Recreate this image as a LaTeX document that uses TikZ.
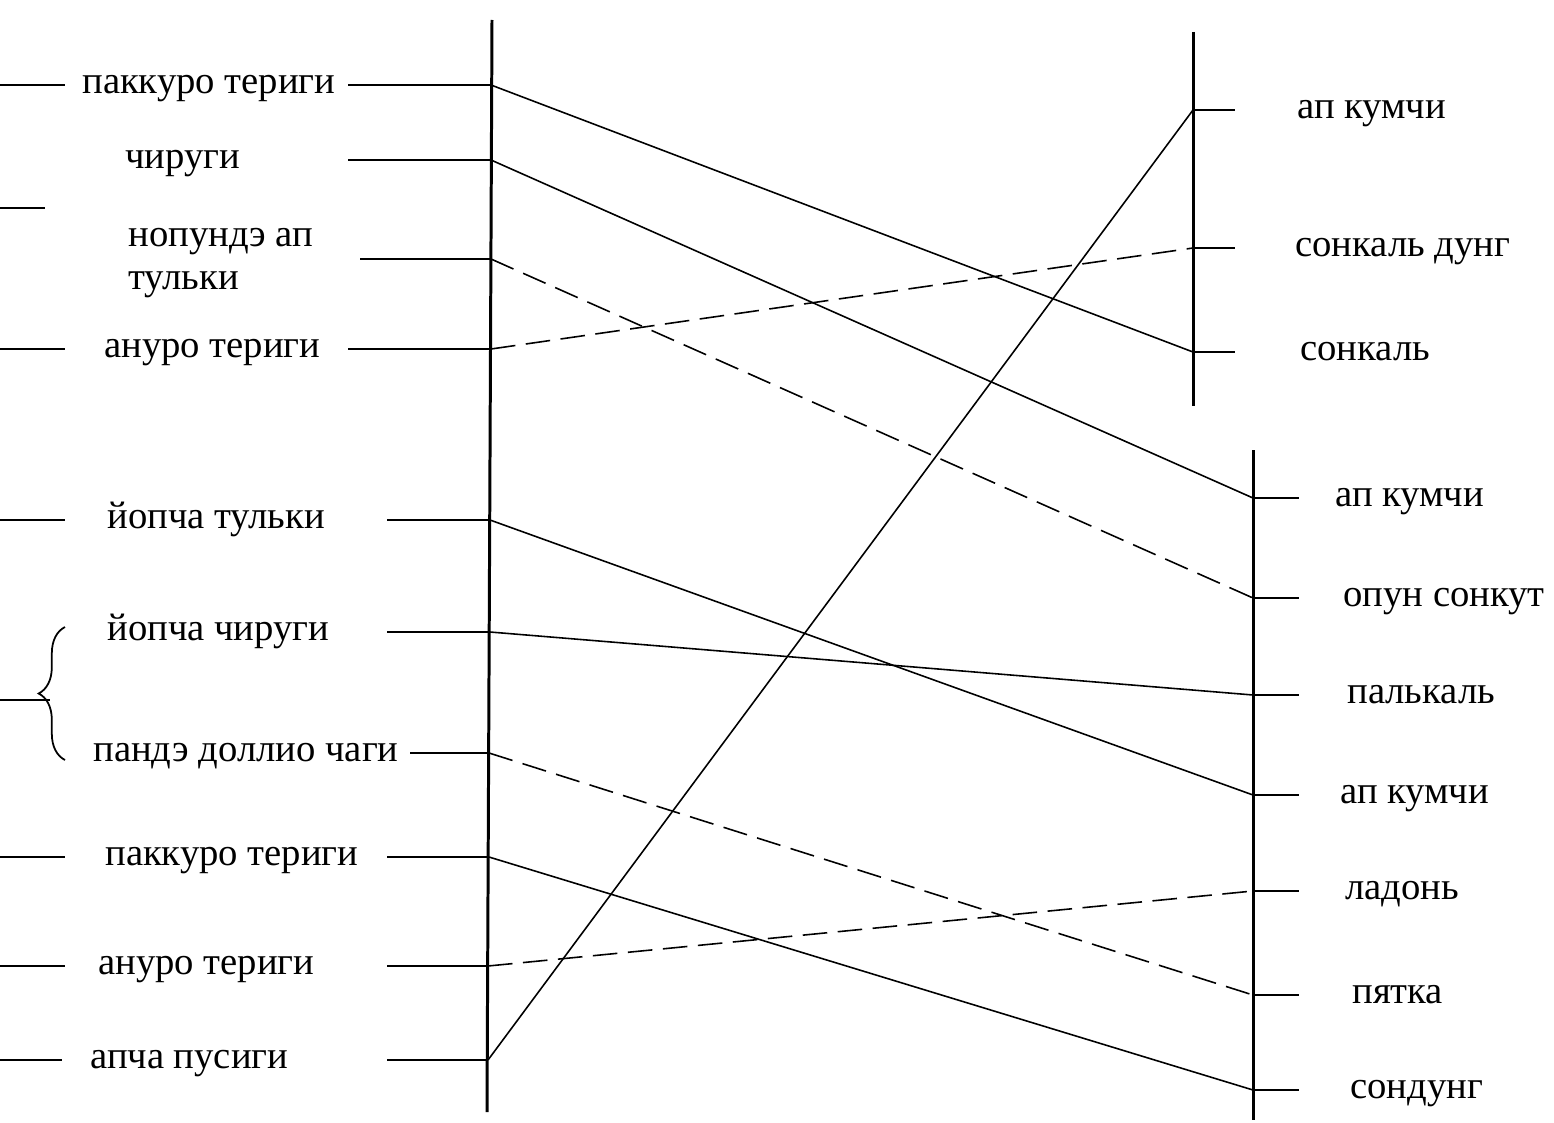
\documentclass[tikz,border=0pt]{standalone}
\usepackage{fontspec}
\setmainfont{Liberation Serif}
\usetikzlibrary{decorations.pathreplacing}

\begin{document}
\begin{tikzpicture}[x=0.02cm,y=-0.02cm,
    lbl/.style={anchor=base west,inner sep=0pt,font=\fontsize{22}{26}\selectfont},
    axis/.style={line width=1.7pt},
    stub/.style={line width=1pt},
    link/.style={line width=0.9pt},
    dlink/.style={link,dash pattern=on 14pt off 6pt}]
  \useasboundingbox (0,0) rectangle (1554,1122);

  % the three vertical axes
  \coordinate (axL-top) at (492,20);
  \coordinate (axL-bot) at (487,1112);
  \coordinate (axU-top) at (1193,32);
  \coordinate (axU-bot) at (1193,406);
  \coordinate (axD-top) at (1253,450);
  \coordinate (axD-bot) at (1253,1120);
  \draw[axis] (axL-top) -- (axL-bot);
  \draw[axis] (axU-top) -- (axU-bot);
  \draw[axis] (axD-top) -- (axD-bot);

  % left labels
  \node[lbl] (ptA)  at (82,93)   {паккуро териги};
  \node[lbl] (chir) at (125,168) {чируги};
  \node[lbl,anchor=west,align=left,font=\fontsize{22}{24.4}\selectfont] (nop) at (128,263) {нопундэ ап\\тульки};
  \node[lbl] (anA)  at (104,357) {ануро териги};
  \node[lbl] (yopt) at (107,528) {йопча тульки};
  \node[lbl] (yopc) at (107,640) {йопча чируги};
  \node[lbl] (pand) at (93,761)  {пандэ доллио чаги};
  \node[lbl] (ptB)  at (105,865) {паккуро териги};
  \node[lbl] (anB)  at (98,974)  {ануро териги};
  \node[lbl] (apch) at (90,1068) {апча пусиги};

  % points on the left axis
  \coordinate (ptA-ax)  at (491,85);
  \coordinate (chir-ax) at (491,160);
  \coordinate (nop-ax)  at (491,259);
  \coordinate (anA-ax)  at (491,349);
  \coordinate (yopt-ax) at (490,520);
  \coordinate (yopc-ax) at (490,632);
  \coordinate (pand-ax) at (489,753);
  \coordinate (ptB-ax)  at (489,857);
  \coordinate (anB-ax)  at (488,966);
  \coordinate (apch-ax) at (488,1060);

  % stubs between labels and the left axis
  \draw[stub] (348,85) -- (ptA-ax);
  \draw[stub] (348,160) -- (chir-ax);
  \draw[stub] (360,259) -- (nop-ax);
  \draw[stub] (348,349) -- (anA-ax);
  \draw[stub] (387,520) -- (yopt-ax);
  \draw[stub] (387,632) -- (yopc-ax);
  \draw[stub] (410,753) -- (pand-ax);
  \draw[stub] (387,857) -- (ptB-ax);
  \draw[stub] (387,966) -- (anB-ax);
  \draw[stub] (387,1060) -- (apch-ax);

  % stubs at the left edge
  \draw[stub] (0,85) -- (65,85);
  \draw[line width=1.6pt] (0,208) -- (45,208);
  \draw[stub] (0,349) -- (65,349);
  \draw[stub] (0,520) -- (65,520);
  \draw[stub] (0,857) -- (65,857);
  \draw[stub] (0,966) -- (65,966);
  \draw[stub] (0,1060) -- (62,1060);
  \coordinate (br-top) at (65,627);
  \coordinate (br-bot) at (65,760);
  \draw[stub,decorate,decoration={brace,amplitude=15}] (br-bot) -- (br-top);
  \draw[stub] (0,700) -- (50,700);

  % upper right axis
  \coordinate (kumA-ax)  at (1193,110);
  \coordinate (sdung-ax) at (1193,248);
  \coordinate (sonk-ax)  at (1193,352);
  \draw[stub] (kumA-ax) -- ++(42,0);
  \draw[stub] (sdung-ax) -- ++(42,0);
  \draw[stub] (sonk-ax) -- ++(42,0);
  \node[lbl] (kumA)  at (1297,118) {ап кумчи};
  \node[lbl] (sdung) at (1295,256) {сонкаль дунг};
  \node[lbl] (sonk)  at (1300,360) {сонкаль};

  % lower right axis
  \coordinate (kumB-ax)  at (1253,498);
  \coordinate (opun-ax)  at (1253,598);
  \coordinate (palk-ax)  at (1253,695);
  \coordinate (kumC-ax)  at (1253,795);
  \coordinate (ladon-ax) at (1253,891);
  \coordinate (pyat-ax)  at (1253,995);
  \coordinate (sondu-ax) at (1253,1090);
  \draw[stub] (kumB-ax) -- ++(46,0);
  \draw[stub] (opun-ax) -- ++(46,0);
  \draw[stub] (palk-ax) -- ++(46,0);
  \draw[stub] (kumC-ax) -- ++(46,0);
  \draw[stub] (ladon-ax) -- ++(46,0);
  \draw[stub] (pyat-ax) -- ++(46,0);
  \draw[stub] (sondu-ax) -- ++(46,0);
  \node[lbl] (kumB)  at (1335,506)  {ап кумчи};
  \node[lbl] (opun)  at (1343,606)  {опун сонкут};
  \node[lbl] (palk)  at (1347,703)  {палькаль};
  \node[lbl] (kumC)  at (1340,803)  {ап кумчи};
  \node[lbl] (ladon) at (1345,899)  {ладонь};
  \node[lbl] (pyat)  at (1352,1003) {пятка};
  \node[lbl] (sondu) at (1350,1098) {сондунг};

  % correspondences
  \draw[link]  (ptA-ax)  -- (sonk-ax);
  \draw[link]  (chir-ax) -- (kumB-ax);
  \draw[dlink] (nop-ax)  -- (opun-ax);
  \draw[dlink] (anA-ax)  -- (sdung-ax);
  \draw[link]  (yopt-ax) -- (kumC-ax);
  \draw[link]  (yopc-ax) -- (palk-ax);
  \draw[dlink] (pand-ax) -- (pyat-ax);
  \draw[link]  (ptB-ax)  -- (sondu-ax);
  \draw[dlink] (anB-ax)  -- (ladon-ax);
  \draw[link]  (apch-ax) -- (kumA-ax);
\end{tikzpicture}
\end{document}
